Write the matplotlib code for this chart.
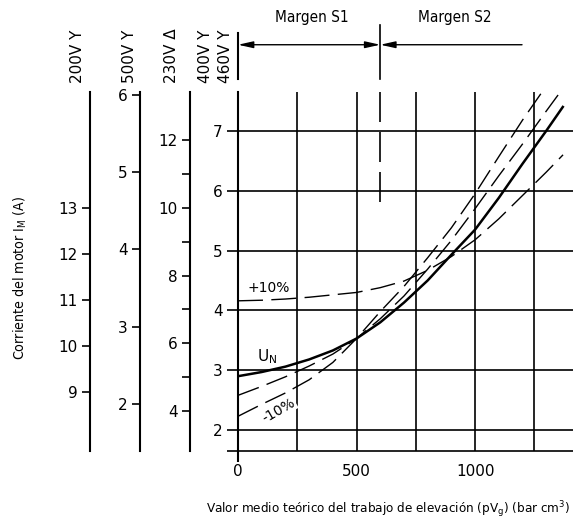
import matplotlib.pyplot as plt

plt.rcParams['font.family'] = ['DejaVu Sans']

# Curves (x: bar cm3, y: motor current on the 400V/460V scale)
x_un = [0, 100, 200, 300, 400, 500, 600, 700, 800, 900, 1000, 1100, 1200, 1300, 1370]
y_un = [2.90, 2.97, 3.06, 3.18, 3.33, 3.53, 3.80, 4.13, 4.50, 4.93, 5.35, 5.88, 6.45, 7.00, 7.40]

x_plus10 = [0, 100, 200, 300, 400, 500, 600, 700, 800, 900, 1000, 1100, 1200, 1300, 1371]
y_plus10 = [4.16, 4.17, 4.19, 4.22, 4.26, 4.30, 4.38, 4.49, 4.67, 4.90, 5.18, 5.53, 5.92, 6.31, 6.60]

x_mid = [0, 100, 200, 300, 400, 500, 600, 700, 800, 900, 1000, 1100, 1200, 1300, 1350]
y_mid = [2.58, 2.73, 2.89, 3.07, 3.27, 3.53, 3.86, 4.24, 4.69, 5.17, 5.70, 6.25, 6.78, 7.33, 7.60]

x_minus10 = [0, 100, 200, 300, 400, 500, 600, 700, 800, 900, 1000, 1100, 1200, 1300]
y_minus10 = [2.23, 2.43, 2.62, 2.84, 3.13, 3.53, 3.98, 4.40, 4.88, 5.38, 5.95, 6.57, 7.18, 7.75]

# scales
main_ticks = [2, 3, 4, 5, 6, 7]
scale_200 = [9, 10, 11, 12, 13]
scale_500 = [2, 3, 4, 5, 6]
scale_230 = [4, 5, 6, 7, 8, 9, 10, 11, 12]
x_ticks = [0, 500, 1000]
x_grid = [0, 250, 500, 750, 1000, 1250]
s1_s2_limit = 600
s2_end = 1198
voltages = ['200V Y', '500V Y', '230V Δ', '400V Y', '460V Y']

W, H = 573, 530
TOP, BOT = 92, 451
cond = dict(family='DejaVu Sans', stretch='condensed')


def box(left, right):
    return [left / W, (H - BOT) / H, (right - left) / W, (BOT - TOP) / H]


def side_scale(fig, xpx, lim, ticks, labels):
    a = fig.add_axes(box(xpx, xpx + 0.5))
    for s in ['top', 'right', 'bottom']:
        a.spines[s].set_visible(False)
    a.spines['left'].set_linewidth(1.5)
    a.set_xticks([])
    a.set_ylim(*lim)
    a.set_yticks(ticks)
    a.set_yticklabels(labels)
    a.tick_params(axis='y', direction='out', length=6, width=1.2, labelsize=11, pad=3)
    a.patch.set_visible(False)
    return a


fig = plt.figure(figsize=(W / 100, H / 100), dpi=100)

ax = fig.add_axes(box(238, 573))
ax.set_xlim(0, 1413)
ax.set_ylim(1.65, 7.65)
for s in ['top', 'right']:
    ax.spines[s].set_visible(False)
ax.spines['left'].set_linewidth(1.5)
ax.spines['bottom'].set_linewidth(1.2)

ax.set_yticks([1.65] + main_ticks)
ax.set_yticklabels([''] + [str(t) for t in main_ticks])
ax.tick_params(axis='y', direction='out', length=8, width=1.2, labelsize=11, pad=3)
ax.set_xticks(x_ticks)
ax.set_xticklabels([str(t) for t in x_ticks])
ax.tick_params(axis='x', length=0, labelsize=11, pad=9)
ax.xaxis.remove_overlapping_locs = False
ax.set_xticks([0], minor=True)
ax.tick_params(axis='x', which='minor', direction='out', length=8, width=1.5)

for g in main_ticks:
    ax.axhline(g, color='black', lw=1.2, zorder=1)
for g in x_grid:
    ax.axvline(g, color='black', lw=1.2, zorder=1)

ax.plot(x_un, y_un, color='black', lw=1.8, zorder=3)
ax.plot(x_plus10, y_plus10, color='black', lw=1.0, dashes=(18, 6), zorder=3)
ax.plot(x_mid, y_mid, color='black', lw=1.0, dashes=(16, 6), zorder=3)
ax.plot(x_minus10, y_minus10, color='black', lw=1.0, dashes=(16, 6), zorder=3)

ax.text(131, 4.37, '+10%', fontsize=10, ha='center', va='center')
ax.text(122, 3.22, 'U$_\\mathregular{N}$', fontsize=11, ha='center', va='center')
ax.text(172, 2.33, '-10%', fontsize=10, ha='center', va='center', rotation=30,
        bbox=dict(facecolor='white', edgecolor='none', pad=0.5))

# S1 / S2 limit
ax.plot([s1_s2_limit, s1_s2_limit], [7.65, 5.80], color='black', lw=1.2, dashes=(18, 6))
arrow_y = 8.44
ax.plot([0, 0], [8.64, 7.86], color='black', lw=1.5, clip_on=False)
ax.plot([s1_s2_limit, s1_s2_limit], [8.77, 7.86], color='black', lw=1.2, clip_on=False)
ax.annotate('', xy=(0, arrow_y), xytext=(s1_s2_limit, arrow_y), annotation_clip=False,
            arrowprops=dict(arrowstyle='<|-|>,head_length=0.9,head_width=0.2',
                            color='black', lw=1.0, shrinkA=0, shrinkB=0))
ax.annotate('', xy=(s1_s2_limit, arrow_y), xytext=(s2_end, arrow_y), annotation_clip=False,
            arrowprops=dict(arrowstyle='-|>,head_length=0.9,head_width=0.2',
                            color='black', lw=1.0, shrinkA=0, shrinkB=0))
ax.text(312, 8.89, 'Margen S1', fontsize=11, ha='center', va='center', **cond)
ax.text(916, 8.89, 'Margen S2', fontsize=11, ha='center', va='center', **cond)

# side scales
side_scale(fig, 90, (7.72, 15.52), scale_200, [str(t) for t in scale_200])
side_scale(fig, 140, (1.39, 6.04), scale_500, [str(t) for t in scale_500])
side_scale(fig, 190, (2.82, 13.42), scale_230,
           [str(t) if t % 2 == 0 else '' for t in scale_230])

for xpx, lab in zip([78, 130, 171, 205, 225], voltages):
    fig.text(xpx / W, 1 - 83 / H, lab, rotation=90, ha='center', va='bottom', fontsize=11)

fig.text(20 / W, 1 - 278 / H, 'Corriente del motor I$_\\mathregular{M}$ (A)',
         rotation=90, ha='center', va='center', fontsize=10.2, **cond)
fig.text(570 / W, 1 - 510 / H,
         'Valor medio teórico del trabajo de elevación (pV$_\\mathregular{g}$) (bar cm$^\\mathregular{3}$)',
         ha='right', va='center', fontsize=9.6, **cond)

fig.savefig('out.png', dpi=100)
